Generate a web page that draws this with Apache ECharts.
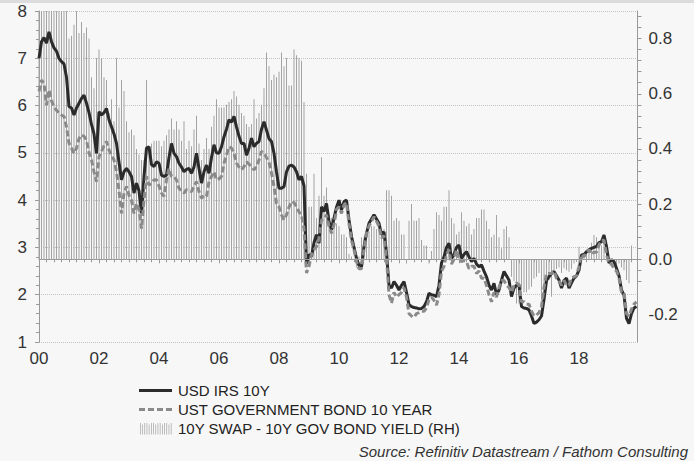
<!DOCTYPE html>
<html><head><meta charset="utf-8">
<script src="https://cdn.jsdelivr.net/npm/echarts@6/dist/echarts.min.js"></script>
<style>html,body{margin:0;padding:0;background:#f7f7f7}#c{width:694px;height:461px}</style>
</head><body><div id="c"></div>
<script>
// Monthly observations, Jan 2000 .. Dec 2019
const startYear = 2000;
const irsName = 'USD IRS 10Y';
const ustName = 'UST GOVERNMENT BOND 10 YEAR';
const spreadName = '10Y SWAP - 10Y GOV BOND YIELD (RH)';
const irs = [
  7.0, 7.35, 7.44, 7.32, 7.56, 7.35, 7.22, 7.15, 7.0, 6.93, 6.88, 6.6,
  5.98, 5.95, 5.8, 5.95, 6.05, 6.15, 6.22, 6.05, 5.85, 5.6, 5.4, 4.99,
  5.87, 5.8, 5.85, 5.94, 5.7, 5.55, 5.4, 5.2, 4.8, 4.43, 4.6, 4.67,
  4.6, 4.5, 4.15, 4.36, 4.2, 3.72, 4.5, 5.1, 5.13, 4.75, 4.71, 4.81,
  4.78, 4.53, 4.5, 4.53, 4.9, 5.2, 4.99, 4.92, 4.78, 4.7, 4.6, 4.65,
  4.67, 4.57, 4.7, 4.99, 4.67, 4.36, 4.6, 4.74, 4.57, 4.9, 5.17, 5.0,
  4.99, 5.13, 5.34, 5.5, 5.7, 5.65, 5.77, 5.55, 5.35, 5.2, 5.2, 4.95,
  5.1, 5.31, 5.13, 5.2, 5.24, 5.5, 5.66, 5.48, 5.3, 5.24, 4.99, 4.6,
  4.25, 4.25, 4.29, 4.6, 4.72, 4.74, 4.7, 4.6, 4.43, 4.5, 4.3, 2.65,
  2.85, 2.81, 3.1, 3.27, 3.09, 3.86, 3.76, 3.93, 3.55, 3.37, 3.62, 3.85,
  4.0, 3.79, 3.97, 4.0, 3.58, 3.23, 3.0, 2.77, 2.62, 2.59, 3.02, 3.3,
  3.51, 3.6, 3.69, 3.6, 3.51, 3.27, 3.33, 2.88, 2.2, 2.14, 2.28, 2.2,
  2.1, 2.2, 2.28, 2.05, 1.79, 1.75, 1.73, 1.72, 1.7, 1.71, 1.75, 1.85,
  2.03, 2.0, 1.99, 1.96, 2.2, 2.67, 2.8, 3.0, 3.09, 2.77, 2.85, 3.0,
  3.05, 2.77, 2.85, 2.91, 2.8, 2.7, 2.77, 2.65, 2.59, 2.63, 2.5, 2.38,
  2.2, 2.1, 2.24, 2.0, 2.1, 2.31, 2.49, 2.4, 2.31, 1.96, 2.14, 2.2,
  2.21, 1.75, 1.72, 1.71, 1.68, 1.55, 1.39, 1.42, 1.47, 1.55, 1.9, 2.3,
  2.38, 2.45, 2.49, 2.4, 2.31, 2.14, 2.3, 2.35, 2.14, 2.25, 2.35, 2.4,
  2.52, 2.84, 2.85, 2.91, 2.95, 2.98, 3.0, 3.02, 3.1, 3.12, 3.26, 3.02,
  2.67, 2.74, 2.7, 2.56, 2.4, 2.1, 1.99, 1.5, 1.39, 1.6, 1.72, 1.75
];
const ust = [
  6.3, 6.54, 6.47, 6.01, 6.33, 6.1, 5.98, 5.9, 5.84, 5.8, 5.77, 5.55,
  5.2, 5.1, 4.99, 5.1, 5.3, 5.38, 5.35, 5.27, 5.0, 4.85, 4.6, 4.39,
  4.92, 5.03, 5.15, 5.24, 5.06, 4.95, 4.85, 4.6, 4.2, 3.72, 4.15, 4.29,
  4.1, 4.0, 3.72, 3.93, 3.8, 3.4, 4.0, 4.5, 4.32, 4.35, 4.43, 4.43,
  4.3, 4.15, 4.08, 4.43, 4.67, 4.5, 4.5, 4.43, 4.25, 4.2, 4.15, 4.22,
  4.2, 4.18, 4.3, 4.39, 4.18, 4.04, 4.1, 4.08, 4.39, 4.5, 4.6, 4.43,
  4.45, 4.5, 4.78, 4.95, 5.13, 5.1, 4.99, 4.78, 4.7, 4.64, 4.71, 4.81,
  4.76, 4.71, 4.64, 4.71, 4.85, 5.03, 5.0, 4.9, 4.8, 4.57, 4.29, 3.93,
  3.86, 3.69, 3.58, 3.69, 3.85, 3.97, 3.95, 3.86, 3.75, 3.69, 3.4, 2.46,
  2.6, 2.85, 2.95, 3.02, 3.2, 3.58, 3.6, 3.69, 3.45, 3.3, 3.48, 3.8,
  3.86, 3.72, 3.9, 3.95, 3.5, 3.15, 2.95, 2.7, 2.55, 2.55, 2.95, 3.3,
  3.45, 3.55, 3.65, 3.55, 3.45, 3.2, 3.25, 2.75, 2.0, 1.82, 2.05, 1.95,
  2.0, 2.05, 2.15, 1.95, 1.6, 1.55, 1.52, 1.6, 1.62, 1.65, 1.65, 1.72,
  1.9, 1.95, 1.88, 1.78, 2.0, 2.5, 2.6, 2.85, 2.95, 2.65, 2.75, 2.95,
  2.75, 2.7, 2.72, 2.7, 2.55, 2.6, 2.6, 2.45, 2.5, 2.35, 2.35, 2.2,
  2.0, 1.85, 2.05, 1.95, 2.15, 2.3, 2.3, 2.2, 2.15, 2.05, 2.2, 2.25,
  2.2, 1.85, 1.85, 1.8, 1.8, 1.65, 1.55, 1.57, 1.62, 1.75, 2.15, 2.45,
  2.45, 2.45, 2.5, 2.35, 2.3, 2.2, 2.3, 2.2, 2.2, 2.35, 2.38, 2.4,
  2.6, 2.85, 2.8, 2.9, 2.95, 2.85, 2.9, 2.9, 3.05, 3.15, 3.15, 2.85,
  2.65, 2.65, 2.55, 2.5, 2.35, 2.05, 2.05, 1.6, 1.55, 1.7, 1.8, 1.85
];
const spread = [
  0.95, 1.0, 0.98, 1.05, 0.92, 1.0, 0.95, 0.93, 0.97, 0.92, 0.94, 0.92,
  0.80, 0.81, 0.85, 0.95, 0.82, 0.86, 0.82, 0.84, 0.80, 0.66, 0.62, 0.73,
  0.76, 0.73, 0.66, 0.65, 0.53, 0.58, 0.50, 0.73, 0.55, 0.65, 0.61, 0.50,
  0.46, 0.47, 0.45, 0.40, 0.38, 0.36, 0.36, 0.65, 0.39, 0.42, 0.43, 0.43,
  0.43, 0.41, 0.43, 0.45, 0.47, 0.51, 0.47, 0.50, 0.47, 0.43, 0.50, 0.40,
  0.43, 0.41, 0.47, 0.52, 0.42, 0.36, 0.40, 0.44, 0.40, 0.48, 0.52, 0.58,
  0.55, 0.55, 0.55, 0.56, 0.57, 0.58, 0.61, 0.59, 0.56, 0.53, 0.52, 0.49,
  0.48, 0.49, 0.58, 0.51, 0.53, 0.56, 0.62, 0.75, 0.70, 0.65, 0.67, 0.66,
  0.68, 0.75, 0.70, 0.73, 0.63, 0.63, 0.76, 0.74, 0.73, 0.72, 0.57, 0.31,
  0.19, 0.19, 0.31, 0.15, 0.23, 0.37, 0.23, 0.26, 0.16, 0.15, 0.14, 0.13,
  0.12, 0.09, 0.09, 0.08, 0.02, 0.01, 0.00, -0.03, 0.01, 0.08, 0.08, 0.11,
  0.10, 0.12, 0.12, 0.11, 0.12, 0.09, 0.11, 0.25, 0.25, 0.23, 0.14, 0.15,
  0.14, 0.09, 0.09, -0.015, 0.14, 0.20, 0.14, 0.14, 0.15, 0.07, 0.05, 0.05,
  -0.015, 0.03, 0.11, 0.17, 0.16, 0.14, 0.19, 0.19, 0.25, 0.15, 0.13, 0.09,
  0.10, 0.17, 0.14, 0.12, 0.13, 0.09, 0.11, 0.15, 0.15, 0.18, 0.18, 0.14,
  0.11, 0.08, 0.09, 0.16, 0.08, 0.04, 0.11, 0.12, 0.08, -0.063, -0.08, -0.16,
  -0.16, -0.11, -0.12, -0.12, -0.11, -0.10, -0.07, -0.063, -0.05, -0.15, -0.13, -0.10,
  -0.075, -0.136, -0.04, -0.035, -0.03, -0.05, -0.033, -0.04, -0.045, -0.035, -0.015, -0.01,
  0.045, 0.01, 0.02, 0.03, 0.03, 0.06, 0.088, 0.08, 0.06, 0.05, 0.09, 0.07,
  -0.01, -0.01, -0.015, -0.02, -0.015, -0.03, -0.04, -0.075, -0.087, 0.05, 0, 0
];
const leftTicks = [1, 2, 3, 4, 5, 6, 7, 8];
const rightTicks = [-0.2, 0.0, 0.2, 0.4, 0.6, 0.8];
const xTickYears = [2000, 2002, 2004, 2006, 2008, 2010, 2012, 2014, 2016, 2018];
const sourceText = 'Source: Refinitiv Datastream / Fathom Consulting';

const t = i => startYear + i / 12;
const pairs = arr => arr.map((v, i) => [t(i), v]);

const rightMinor = [];
for (let k = -2; k <= 22; k++) rightMinor.push(Math.round(k * 0.04 * 1000) / 1000);

let hatch = 'path://M0,0M33,12';
for (let k = 0; k < 15; k++) { const x = 1 + k * 2.2; hatch += 'M' + x + ',' + (k % 3 === 1 ? 2 : 0.5) + 'H' + (x + 0.7) + 'V12H' + x + 'Z'; }

const FONT = '"Liberation Sans", Arial, sans-serif';
const chart = echarts.init(document.getElementById('c'), null, { renderer: 'svg' });
chart.setOption({
  animation: false,
  backgroundColor: '#f7f7f7',
  textStyle: { fontFamily: FONT },
  grid: { left: 39, right: 56.5, top: 11, bottom: 119 },
  title: {
    text: sourceText, right: 6, top: 443, padding: 0,
    textStyle: { fontSize: 15, fontStyle: 'italic', fontWeight: 'normal', color: '#333', fontFamily: FONT, lineHeight: 17 }
  },
  legend: {
    orient: 'vertical', left: 139, top: 382, padding: 0,
    itemWidth: 33, itemHeight: 12, itemGap: 2,
    itemStyle: { borderWidth: 0 },
    textStyle: { fontSize: 15, color: '#222', fontFamily: FONT, lineHeight: 17, padding: [0, 0, 0, 1] },
    data: [
      { name: irsName, icon: 'path://M0,0M33,12M0,4.5H33V7.5H0Z' },
      { name: ustName, icon: 'path://M0,0M33,12M0,4.5H6V7.5H0ZM9,4.5H15V7.5H9ZM18,4.5H24V7.5H18ZM27,4.5H33V7.5H27Z' },
      { name: spreadName, icon: hatch }
    ]
  },
  graphic: [{ type: 'rect', shape: { x: 0, y: 0, width: 694, height: 3 }, style: { fill: '#dcdcdc' }, silent: true }],
  xAxis: {
    type: 'value', min: 2000, max: 2019.95, interval: 2,
    axisLine: { show: true, lineStyle: { color: '#999' } },
    axisTick: { show: true, length: 4, lineStyle: { color: '#999' } },
    minorTick: { show: true, splitNumber: 8, length: 3, lineStyle: { color: '#999' } },
    splitLine: { show: false },
    axisLabel: {
      fontSize: 17, color: '#333', margin: 8, showMaxLabel: false,
      formatter: v => xTickYears.includes(v) ? String(v % 100).padStart(2, '0') : ''
    }
  },
  yAxis: [
    {
      type: 'value', min: leftTicks[0], max: leftTicks[leftTicks.length - 1], interval: 1, position: 'left',
      axisLine: { show: true, lineStyle: { color: '#999' } },
      axisTick: { show: true, length: 4, lineStyle: { color: '#999' } },
      minorTick: { show: true, splitNumber: 5, length: 3, lineStyle: { color: '#999' } },
      splitLine: { show: true, lineStyle: { type: 'dotted', color: '#c4c4c4' } },
      axisLabel: { fontSize: 17, color: '#333', margin: 12 }
    },
    {
      type: 'value', min: -0.3, max: 0.9, position: 'right',
      axisLine: { show: true, lineStyle: { color: '#999' } },
      axisTick: { show: true, length: 4, customValues: rightMinor, lineStyle: { color: '#999' } },
      splitLine: { show: false },
      axisLabel: { fontSize: 17, color: '#333', margin: 11, customValues: rightTicks, formatter: v => v.toFixed(1) }
    }
  ],
  series: [
    {
      name: spreadName, type: 'bar', yAxisIndex: 1, data: pairs(spread), barWidth: 1,
      itemStyle: { color: '#a3a3a3' },
      markLine: {
        silent: true, symbol: 'none', label: { show: false },
        lineStyle: { color: '#9a9a9a', type: 'solid', width: 1 },
        data: [{ yAxis: 0 }]
      }
    },
    {
      name: irsName, type: 'line', data: pairs(irs), showSymbol: false, symbol: 'none',
      lineStyle: { color: '#2b2b2b', width: 3 }, itemStyle: { color: '#2b2b2b' }
    },
    {
      name: ustName, type: 'line', data: pairs(ust), showSymbol: false, symbol: 'none',
      lineStyle: { color: '#8a8a8a', width: 3, type: [6, 3] }, itemStyle: { color: '#8a8a8a' }
    }
  ]
});
</script>
</body></html>
